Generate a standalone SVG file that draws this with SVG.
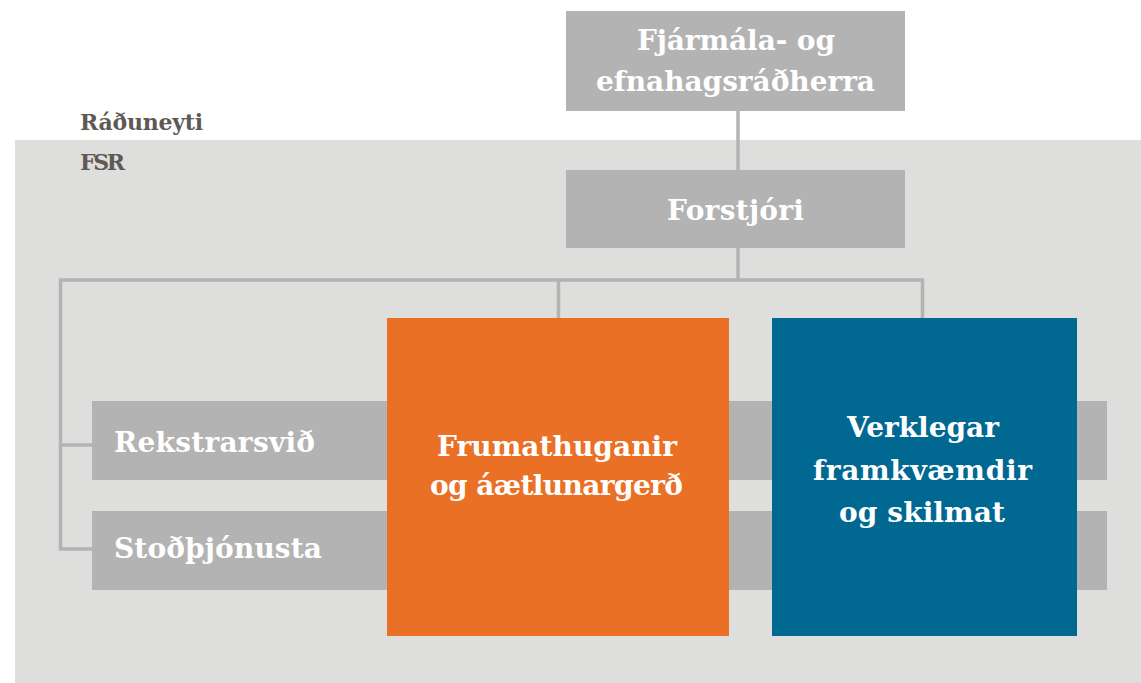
<svg xmlns="http://www.w3.org/2000/svg" width="1141" height="683" viewBox="0 0 1141 683">
<style>
.lbl{font-family:"DejaVu Serif","Liberation Serif",serif;font-weight:bold;font-size:28px;fill:#ffffff;}
.cap{font-family:"DejaVu Serif","Liberation Serif",serif;font-weight:bold;font-size:22px;fill:#5f5953;}
.g{fill:#b3b3b3;}
.con{stroke:#b3b3b3;stroke-width:3.5;fill:none;}
</style>
<rect width="1141" height="683" fill="#ffffff"/>
<g id="panel">
<rect x="15" y="140" width="1126" height="543" fill="#dededd"/>
<text class="cap" x="80" y="130" textLength="123">Ráðuneyti</text>
<text class="cap" x="80" y="170" textLength="45">FSR</text>
</g>
<g id="connectors">
<line class="con" x1="738" y1="111" x2="738" y2="170"/>
<polyline class="con" points="738,248 738,280"/>
<polyline class="con" points="558.5,318 558.5,280 922.5,280 922.5,318"/>
<polyline class="con" points="558.5,280 60.5,280 60.5,549 92,549"/>
<line class="con" x1="60.5" y1="445" x2="92" y2="445"/>
</g>
<g id="radherra">
<rect class="g" x="566" y="11" width="339" height="100"/>
<text class="lbl" x="637" y="50" textLength="198">Fjármála- og</text>
<text class="lbl" x="596" y="91" textLength="279">efnahagsráðherra</text>
</g>
<g id="forstjori">
<rect class="g" x="566" y="170" width="339" height="78"/>
<text class="lbl" x="667" y="220" textLength="137">Forstjóri</text>
</g>
<g id="rekstrarsvid">
<rect class="g" x="92" y="401" width="1015" height="79"/>
<text class="lbl" x="114" y="452" textLength="201">Rekstrarsvið</text>
</g>
<g id="stodthjonusta">
<rect class="g" x="92" y="511" width="1015" height="79"/>
<text class="lbl" x="114" y="558" textLength="208">Stoðþjónusta</text>
</g>
<g id="frumathuganir">
<rect x="387" y="318" width="342" height="318" fill="#e97024"/>
<text class="lbl" x="437" y="456" textLength="240">Frumathuganir</text>
<text class="lbl" x="430" y="495" textLength="253">og áætlunargerð</text>
</g>
<g id="verklegar">
<rect x="772" y="318" width="305" height="318" fill="#016892"/>
<text class="lbl" x="847" y="437" textLength="152">Verklegar</text>
<text class="lbl" x="813" y="480" textLength="219">framkvæmdir</text>
<text class="lbl" x="839" y="522" textLength="166">og skilmat</text>
</g>
</svg>
